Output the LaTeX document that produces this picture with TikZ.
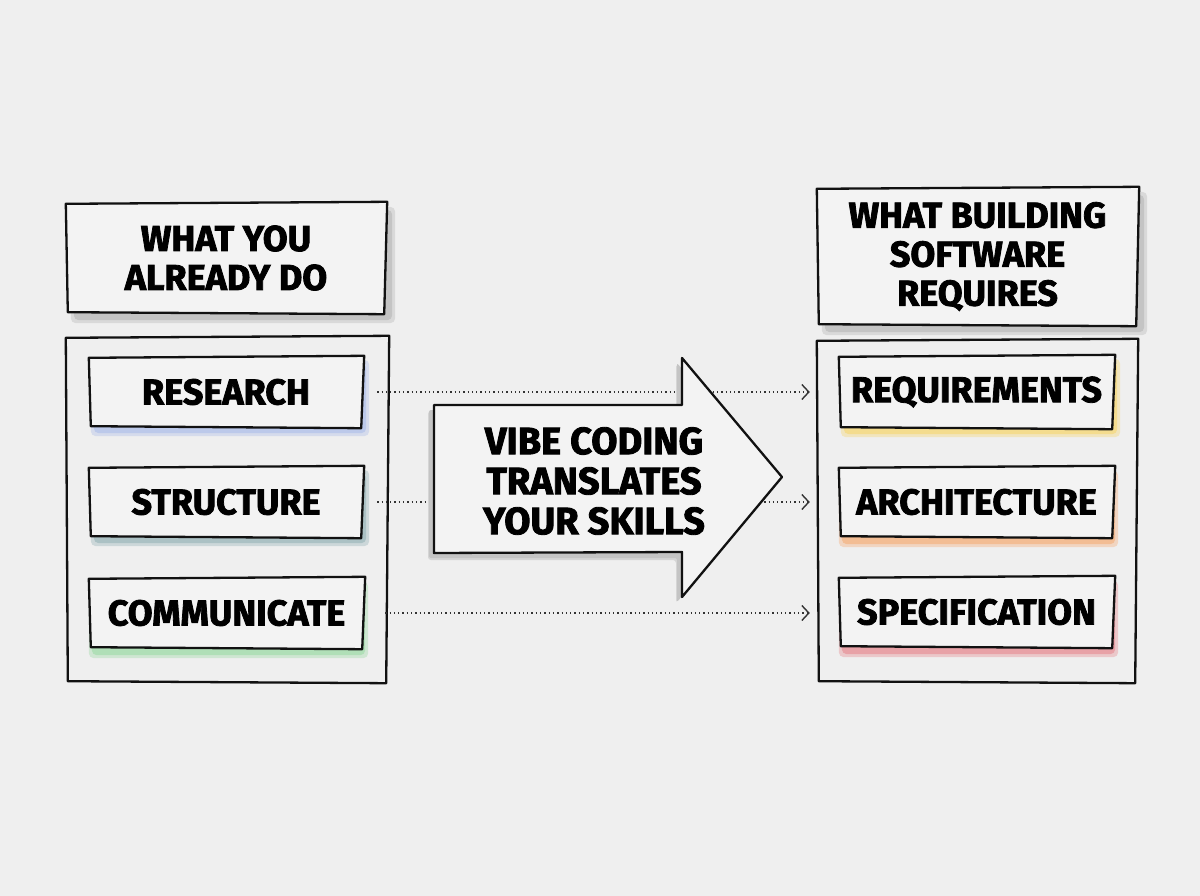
\documentclass[tikz,border=0pt]{standalone}
\usepackage{fontspec}
\newfontfamily\hand{Fira Sans}[BoldFeatures={FakeBold=2.2}]
\usetikzlibrary{arrows.meta}
\definecolor{bgc}{HTML}{EFEFEF}
\definecolor{boxfill}{HTML}{F3F3F3}
\definecolor{hshadow}{HTML}{C4C4C4}
\definecolor{cblue}{HTML}{BCC9EA}
\definecolor{cteal}{HTML}{ABC1C4}
\definecolor{cgreen}{HTML}{B0DFB7}
\definecolor{cyellow}{HTML}{F4DC8E}
\definecolor{corange}{HTML}{F3BD94}
\definecolor{cpink}{HTML}{E8A2A7}
\definecolor{ink}{HTML}{111111}
\pgfdeclarelayer{bglayer}
\pgfdeclarelayer{contlayer}
\pgfdeclarelayer{shadowlayer}
\pgfdeclarelayer{boxlayer}
\pgfdeclarelayer{linelayer}
\pgfdeclarelayer{arrowlayer}
\pgfsetlayers{bglayer,contlayer,shadowlayer,boxlayer,linelayer,arrowlayer,main}
\tikzset{
  lbl/.style={font=\hand\bfseries\fontsize{36}{39}\selectfont, align=center, inner sep=0pt, text=black},
  biglbl/.style={lbl, font=\hand\bfseries\fontsize{38}{40}\selectfont},
  frame/.style={draw=ink, line width=2.3pt, line join=round, fill=boxfill},
  softshadow/.style={fill=#1, rounded corners=5pt},
  conn/.style={draw=black!80, line width=1.3pt, dash pattern=on 1.3pt off 3pt,
    -{Straight Barb[length=7pt,width=15pt,line width=1.4pt]}},
}
% hand-drawn quad around a named node
\newcommand\wobbly[1]{([shift={(-1,1)}]#1.north west) -- ([shift={(2,-1)}]#1.north east) -- ([shift={(-1,1)}]#1.south east) -- ([shift={(1,-1)}]#1.south west) -- cycle}
\newcommand\sketchbox[4]{% node, shadow colour, dx, dy
  \begin{pgfonlayer}{shadowlayer}
    \fill[softshadow=#2, opacity=0.5] ([shift={(#3-3,#4-3)}]#1.north west) rectangle ([shift={(#3+3,#4+3)}]#1.south east);
    \fill[softshadow=#2] ([shift={(#3,#4)}]#1.north west) rectangle ([shift={(#3,#4)}]#1.south east);
  \end{pgfonlayer}
  \begin{pgfonlayer}{boxlayer}
    \path[frame] \wobbly{#1};
  \end{pgfonlayer}}
\begin{document}
\begin{tikzpicture}[x=1pt,y=-1pt]
\begin{pgfonlayer}{bglayer}
  \fill[bgc] (0,0) rectangle (1200,896);
\end{pgfonlayer}
\useasboundingbox (0,0) rectangle (1200,896);

% left column
\node[lbl, minimum width=318pt, minimum height=110pt] (lhead) at (226,258) {WHAT YOU\\ALREADY DO};
\node[minimum width=320pt, minimum height=345pt, inner sep=0pt] (lcont) at (227,509.5) {};
\node[lbl, minimum width=272pt, minimum height=70pt] (research) at (226,392) {RESEARCH};
\node[lbl, minimum width=272pt, minimum height=70pt] (structure) at (226,502) {STRUCTURE};
\node[lbl, minimum width=273pt, minimum height=70pt] (communicate) at (226.5,613) {COMMUNICATE};

% right column
\node[lbl, minimum width=319pt, minimum height=137pt] (rhead) at (977.5,256.5) {WHAT BUILDING\\SOFTWARE\\REQUIRES};
\node[minimum width=318pt, minimum height=342pt, inner sep=0pt] (rcont) at (977,511) {};
\node[lbl, minimum width=273pt, minimum height=72pt] (requirements) at (976.5,392) {REQUIREMENTS};
\node[lbl, minimum width=273pt, minimum height=70pt] (architecture) at (976.5,502) {ARCHITECTURE};
\node[lbl, minimum width=273pt, minimum height=70pt] (specification) at (976.5,612) {SPECIFICATION};

\sketchbox{lhead}{hshadow}{7}{7}
\sketchbox{rhead}{hshadow}{7}{7}
\begin{pgfonlayer}{contlayer}
  \path[frame, fill=bgc] \wobbly{lcont};
  \path[frame, fill=bgc] \wobbly{rcont};
\end{pgfonlayer}
\sketchbox{research}{cblue}{4}{6}
\sketchbox{structure}{cteal}{4}{6}
\sketchbox{communicate}{cgreen}{2}{7}
\sketchbox{requirements}{cyellow}{4}{6}
\sketchbox{architecture}{corange}{2}{7}
\sketchbox{specification}{cpink}{2}{7}

% connectors
\begin{pgfonlayer}{linelayer}
  \draw[conn, shorten <=15pt, shorten >=30pt] (research.east) -- (research.east -| requirements.west);
  \draw[conn, shorten <=15pt, shorten >=30pt] (structure.east) -- (structure.east -| architecture.west);
  \draw[conn, shorten <=22pt, shorten >=30pt] (communicate.east) -- (communicate.east -| specification.west);
\end{pgfonlayer}

% big arrow
\begin{pgfonlayer}{arrowlayer}
  \fill[hshadow, opacity=0.6, rounded corners=3pt] (428,411) -- (676,411) -- (676,364) -- (776,483) -- (676,603) -- (676,560) -- (428,560) -- cycle;
  \fill[hshadow, rounded corners=2pt] (429,410) -- (677,410) -- (677,363) -- (777,482) -- (677,602) -- (677,558) -- (429,558) -- cycle;
  \path[frame] (434,405) -- (682,405) -- (682,358) -- (782,477) -- (682,597) -- (682,552) -- (434,553) -- cycle;
\end{pgfonlayer}
\node[biglbl] (vibe) at (594,481) {VIBE CODING\\TRANSLATES\\YOUR SKILLS};
\end{tikzpicture}
\end{document}
